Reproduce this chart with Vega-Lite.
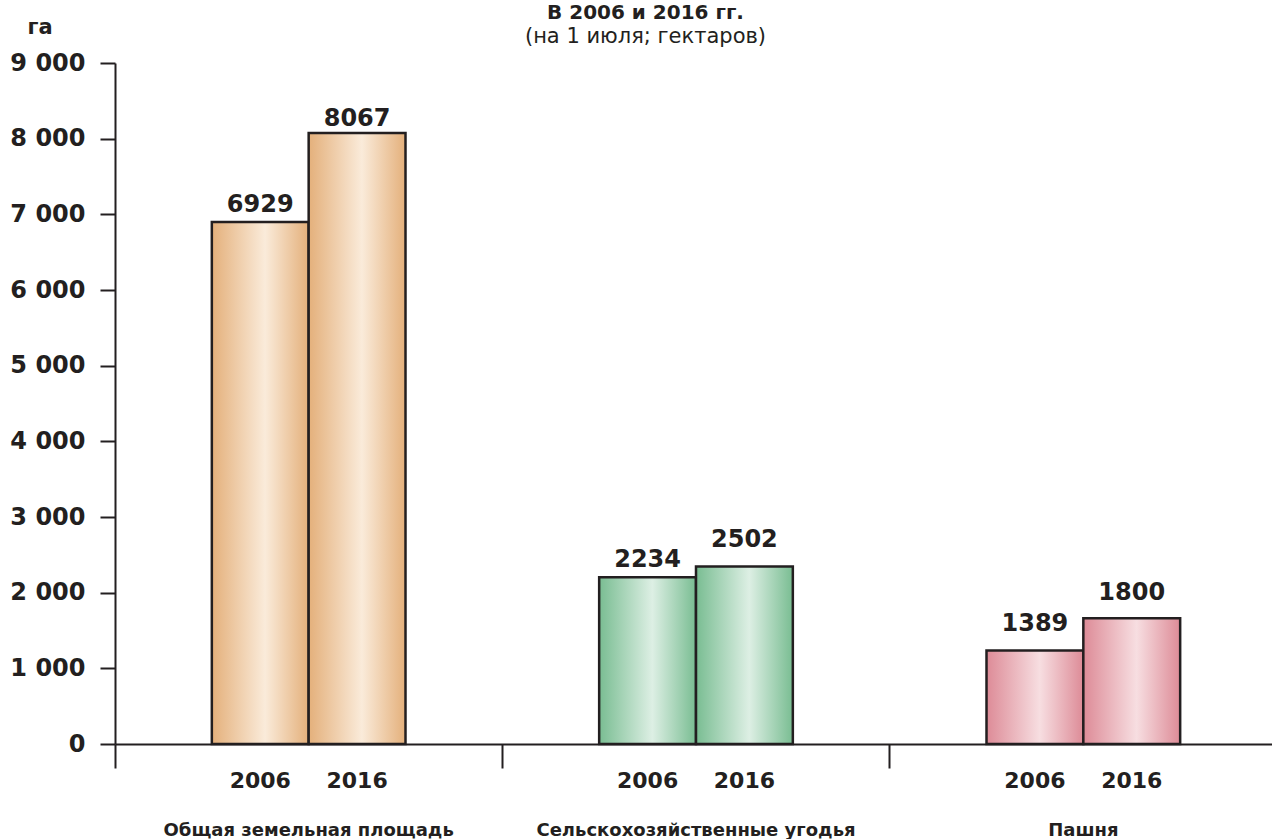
{
  "$schema": "https://vega.github.io/schema/vega-lite/v6.json",
  "width": 1157,
  "height": 681,
  "autosize": "none",
  "padding": {"left": 115, "top": 63, "right": 0, "bottom": 95},
  "background": "white",
  "config": {"view": {"stroke": null}, "font": "DejaVu Sans"},
  "title": {
    "text": "В 2006 и 2016 гг.",
    "subtitle": "(на 1 июля; гектаров)",
    "anchor": "middle",
    "dx": -48,
    "offset": -31,
    "subtitlePadding": 3,
    "font": "DejaVu Sans",
    "fontSize": 20,
    "fontWeight": "bold",
    "color": "#231F20",
    "subtitleFont": "DejaVu Sans",
    "subtitleFontSize": 21,
    "subtitleFontWeight": "normal",
    "subtitleColor": "#231F20"
  },
  "data": {
    "values": [
      {"cat": "Общая земельная площадь", "year": "2006", "ha": 6900, "label": 6929},
      {"cat": "Общая земельная площадь", "year": "2016", "ha": 8075, "label": 8067},
      {"cat": "Сельскохозяйственные угодья", "year": "2006", "ha": 2205, "label": 2234},
      {"cat": "Сельскохозяйственные угодья", "year": "2016", "ha": 2345, "label": 2502},
      {"cat": "Пашня", "year": "2006", "ha": 1235, "label": 1389},
      {"cat": "Пашня", "year": "2016", "ha": 1662, "label": 1800}
    ]
  },
  "encoding": {
    "x": {
      "field": "cat",
      "type": "nominal",
      "sort": ["Общая земельная площадь", "Сельскохозяйственные угодья", "Пашня"],
      "scale": {"range": [0, 1162], "paddingInner": 0, "paddingOuter": 0},
      "axis": {
        "title": null,
        "bandPosition": 0,
        "domainColor": "#231F20",
        "domainWidth": 2,
        "tickColor": "#231F20",
        "tickWidth": 2,
        "tickSize": 24,
        "labelAngle": 0,
        "labelPadding": 67,
        "labelLimit": 0,
        "labelBaseline": "alphabetic",
        "labelFont": "DejaVu Sans",
        "labelFontSize": 18,
        "labelFontWeight": "bold",
        "labelColor": "#231F20"
      }
    },
    "xOffset": {
      "field": "year",
      "type": "nominal",
      "scale": {"paddingInner": 0, "paddingOuter": 1}
    }
  },
  "layer": [
    {
      "transform": [{"filter": "datum.cat === 'Общая земельная площадь'"}],
      "mark": {
        "type": "bar",
        "stroke": "#231F20",
        "strokeWidth": 2.5,
        "fill": {
          "gradient": "linear", "x1": 0, "x2": 1, "y1": 0, "y2": 0,
          "stops": [
            {"offset": 0, "color": "#E4B07B"},
            {"offset": 0.55, "color": "#FAEBDA"},
            {"offset": 1, "color": "#E4B07B"}
          ]
        }
      },
      "encoding": {
        "y": {
          "field": "ha",
          "type": "quantitative",
          "scale": {"domain": [0, 9000], "nice": false},
          "axis": {
            "title": "га",
            "titleAngle": 0,
            "titleAlign": "left",
            "titleBaseline": "alphabetic",
            "titleX": -88,
            "titleY": -30,
            "titleFont": "DejaVu Sans",
            "titleFontSize": 21,
            "titleFontWeight": "bold",
            "titleColor": "#231F20",
            "values": [0, 1000, 2000, 3000, 4000, 5000, 6000, 7000, 8000, 9000],
            "labelExpr": "replace(format(datum.value, ',d'), ',', ' ')",
            "grid": false,
            "domainColor": "#231F20",
            "domainWidth": 2,
            "tickColor": "#231F20",
            "tickWidth": 2,
            "tickSize": 15,
            "labelPadding": 15,
            "labelFont": "DejaVu Sans",
            "labelFontSize": 24,
            "labelFontWeight": "bold",
            "labelColor": "#231F20"
          }
        }
      }
    },
    {
      "transform": [{"filter": "datum.cat === 'Сельскохозяйственные угодья'"}],
      "mark": {
        "type": "bar",
        "stroke": "#231F20",
        "strokeWidth": 2.5,
        "fill": {
          "gradient": "linear", "x1": 0, "x2": 1, "y1": 0, "y2": 0,
          "stops": [
            {"offset": 0, "color": "#79BD92"},
            {"offset": 0.55, "color": "#DDEFE4"},
            {"offset": 1, "color": "#79BD92"}
          ]
        }
      },
      "encoding": {
        "y": {"field": "ha", "type": "quantitative", "scale": {"domain": [0, 9000], "nice": false}}
      }
    },
    {
      "transform": [{"filter": "datum.cat === 'Пашня'"}],
      "mark": {
        "type": "bar",
        "stroke": "#231F20",
        "strokeWidth": 2.5,
        "fill": {
          "gradient": "linear", "x1": 0, "x2": 1, "y1": 0, "y2": 0,
          "stops": [
            {"offset": 0, "color": "#DD8B97"},
            {"offset": 0.55, "color": "#F7DEE1"},
            {"offset": 1, "color": "#DD8B97"}
          ]
        }
      },
      "encoding": {
        "y": {"field": "ha", "type": "quantitative", "scale": {"domain": [0, 9000], "nice": false}}
      }
    },
    {
      "mark": {
        "type": "text",
        "baseline": "alphabetic",
        "dy": -8,
        "font": "DejaVu Sans",
        "fontSize": 24,
        "fontWeight": "bold",
        "color": "#231F20"
      },
      "encoding": {
        "y": {"field": "label", "type": "quantitative"},
        "text": {"field": "label", "type": "quantitative", "format": "d"}
      }
    },
    {
      "mark": {
        "type": "text",
        "baseline": "alphabetic",
        "dy": 44,
        "font": "DejaVu Sans",
        "fontSize": 22,
        "fontWeight": "bold",
        "color": "#231F20"
      },
      "encoding": {
        "y": {"datum": 0, "type": "quantitative"},
        "text": {"field": "year", "type": "nominal"}
      }
    }
  ]
}
